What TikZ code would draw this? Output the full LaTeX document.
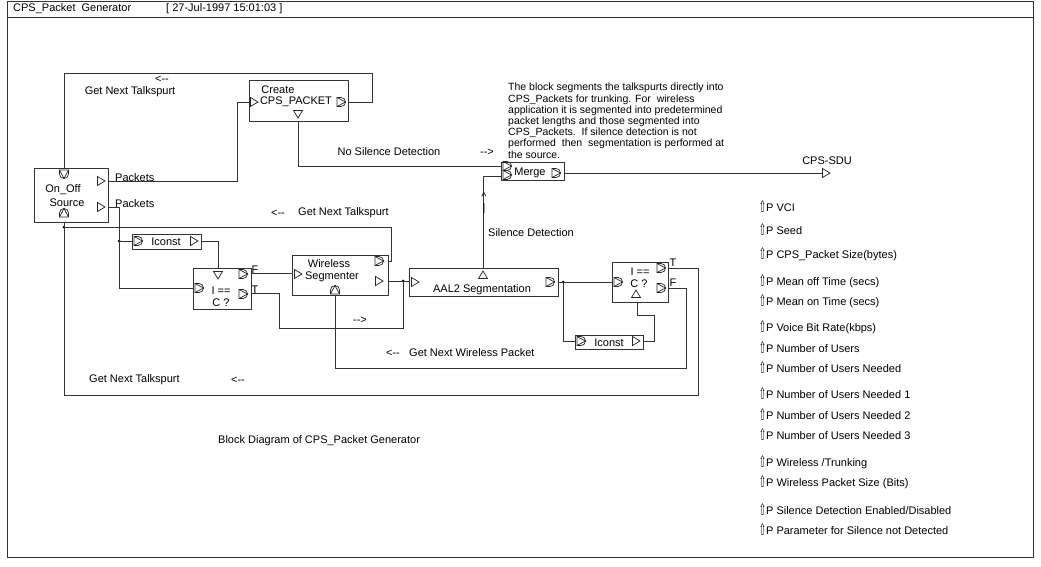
\documentclass[tikz,border=0pt]{standalone}
\usepackage{fontspec}
\setmainfont{Liberation Sans}
\newfontfamily\arrowfont{DejaVu Sans}
\tikzset{
  blk/.style={draw=black!80,line width=0.8pt,inner sep=0pt},
  wire/.style={draw=black!80,line width=0.8pt},
  port/.style={draw=black!85,line width=0.7pt},
  lbl/.style={inner sep=0pt,font=\fontsize{11}{11}\selectfont},
  joint/.style={circle,fill=black,inner sep=0pt,minimum size=3pt},
  tri/.pic={\draw[port] (-3.5,-4.5) -- (4,0) -- (-3.5,4.5) -- cycle;},
  dport/.pic={\draw[port] (-4,-4.5) -- (0,-4.5) arc[start angle=-90,end angle=90,radius=4.5] -- (-4,4.5) -- cycle;
    \draw[port] (-4,-4.5) -- (4.5,0) -- (-4,4.5);}
}
\newcommand{\parmark}{{\arrowfont\raisebox{-0.5pt}{\scalebox{0.75}[1.45]{⇧}}}P\ }
\newcommand{\lft}{<{-}{-}}
\newcommand{\rgt}{{-}{-}>}
\begin{document}
\begin{tikzpicture}[x=1pt,y=-1pt]
\useasboundingbox (0,0) rectangle (1041,567);
% frame and title
\draw[wire] (7,1) rectangle (1033,557);
\draw[wire] (7,17) -- (1033,17);
\node[lbl,anchor=west] (title) at (13,9) {CPS\_Packet\ \ Generator};
\node[lbl,anchor=west] (stamp) at (166,9) {[ 27-Jul-1997 15:01:03 ]};

% blocks
\node[blk,minimum width=74pt,minimum height=54pt] (src) at (71,195) {};
\node[lbl] (srcA) at (63,190) {On\_Off};
\node[lbl] (srcB) at (67,203) {Source};
\node[blk,minimum width=99pt,minimum height=41pt] (create) at (298.5,100.5) {};
\node[lbl] (crA) at (278,90) {Create};
\node[lbl] (crB) at (296,102) {CPS\_PACKET};
\node[blk,minimum width=63pt,minimum height=18pt] (merge) at (532.5,171) {};
\node[lbl] (mgA) at (530,173) {Merge};
\node[blk,minimum width=149pt,minimum height=28pt] (aal2) at (483.5,282) {};
\node[lbl] (aaA) at (482,290) {AAL2 Segmentation};
\node[blk,minimum width=96pt,minimum height=40pt] (wseg) at (340,275) {};
\node[lbl] (wsA) at (329,264) {Wireless};
\node[lbl] (wsB) at (332,277) {Segmenter};
\node[blk,minimum width=58pt,minimum height=41pt] (eqa) at (222,288.5) {};
\node[lbl] (eqaA) at (221,291) {I ==};
\node[lbl] (eqaB) at (221,303) {C ?};
\node[blk,minimum width=69pt,minimum height=15pt] (ica) at (166.5,241.5) {};
\node[lbl] (icaA) at (166,242) {Iconst};
\node[blk,minimum width=56pt,minimum height=40pt] (eqb) at (640,282) {};
\node[lbl] (eqbA) at (640,272) {I ==};
\node[lbl] (eqbB) at (639,284) {C ?};
\node[blk,minimum width=68pt,minimum height=14pt] (icb) at (609,342) {};
\node[lbl] (icbA) at (609,343) {Iconst};

% ports
\pic[rotate=-90] at (64,174) {dport};
\pic[rotate=90] at (64,213) {dport};
\pic at (101,181) {tri};
\pic at (101,207) {tri};
\pic at (254,102) {tri};
\pic at (341,102) {dport};
\pic[rotate=-90] at (298,114) {tri};
\pic at (507,166) {dport};
\pic at (507,175) {dport};
\pic at (556,173) {dport};
\pic[rotate=90] at (483,275) {tri};
\pic at (415,282) {tri};
\pic at (550,282) {dport};
\pic at (298,274) {tri};
\pic at (379,261) {dport};
\pic at (379,281) {tri};
\pic[rotate=90] at (335,290) {dport};
\pic[rotate=-90] at (218,275) {tri};
\pic at (199,288) {dport};
\pic at (243,274) {dport};
\pic at (243,294) {dport};
\pic at (138,241) {dport};
\pic at (194,241) {tri};
\pic at (618,282) {dport};
\pic at (661,268) {dport};
\pic at (661,288) {dport};
\pic[rotate=90] at (636,294) {tri};
\pic at (581,341) {dport};
\pic at (636,341) {tri};
\pic at (826,173) {tri};

% port coordinates
\coordinate (srcT) at (64,168);
\coordinate (srcBt) at (64,222);
\coordinate (srcP1) at (108,181);
\coordinate (srcP2) at (108,207);
\coordinate (crI) at (249,102);
\coordinate (crO) at (348,102);
\coordinate (crBt) at (298,121);
\coordinate (mgI1) at (501,166);
\coordinate (mgI2) at (501,176);
\coordinate (mgO) at (564,173);
\coordinate (sduI) at (822,173);
\coordinate (aaT) at (483,268);
\coordinate (aaI) at (409,281);
\coordinate (aaO) at (558,282);
\coordinate (wsI) at (292,273);
\coordinate (wsR) at (388,261);
\coordinate (wsO) at (388,281);
\coordinate (wsBt) at (335,295);
\coordinate (eqaT) at (218,268);
\coordinate (eqaI) at (193,288);
\coordinate (eqaF) at (251,273);
\coordinate (eqaTT) at (251,293);
\coordinate (icaI) at (132,241);
\coordinate (icaO) at (201,241);
\coordinate (eqbI) at (612,282);
\coordinate (eqbT) at (668,268);
\coordinate (eqbF) at (668,288);
\coordinate (eqbBt) at (637,302);
\coordinate (icbI) at (575,341);
\coordinate (icbO) at (643,341);
% bends
\coordinate (loopA) at (372,73);
\coordinate (bendA) at (237,102);
\coordinate (bendT) at (279,328);
\coordinate (bendW) at (391,227);
\coordinate (loopB) at (698,395);
\coordinate (loopC) at (686,368);
\coordinate (bendI) at (654,315);

% junctions
\node[joint] (jA) at (119,241) {};
\node[joint] (jB) at (403,281) {};
\node[joint] (jC) at (64,227) {};
\node[joint] (jD) at (563,282) {};

% wires
\draw[wire] (srcT) |- (loopA) |- (crO);
\draw[wire] (srcP1) -| (bendA) -- (crI);
\draw[wire] (crBt) |- (mgI1);
\draw[wire] (mgO) -- (sduI);
\draw[wire] (aaT) |- (mgI2);
\draw[wire] (srcP2) -| (jA.center) -- (icaI);
\draw[wire] (jA.center) |- (eqaI);
\draw[wire] (icaO) -| (eqaT);
\draw[wire] (eqaF) -- (wsI);
\draw[wire] (eqaTT) -| (bendT) -| (jB.center);
\draw[wire] (wsO) -- (aaI);
\draw[wire] (wsR) -| (bendW) -- (jC.center) -- (srcBt);
\draw[wire] (jC.center) |- (loopB) |- (eqbT);
\draw[wire] (wsBt) |- (loopC) |- (eqbF);
\draw[wire] (aaO) -- (eqbI);
\draw[wire] (jD.center) |- (icbI);
\draw[wire] (icbO) -| (bendI) -| (eqbBt);

% labels
\node[lbl] (back1) at (162,79) {\lft};
\node[lbl] (talk1) at (130,92) {Get Next Talkspurt};
\node[lbl,anchor=west] (pk1) at (115,178) {Packets};
\node[lbl,anchor=west] (pk2) at (115,204) {Packets};
\node[lbl] (nosil) at (389,152) {No Silence Detection};
\node[lbl] (fwd1) at (487,152) {\rgt};
\node[lbl] (up1) at (484,197) {\^{}};
\node[lbl] (up2) at (484,209) {|};
\node[lbl,anchor=west] (sil) at (488,233) {Silence Detection};
\node[lbl] (back2) at (278,213) {\lft};
\node[lbl,anchor=west] (talk2) at (298,213) {Get Next Talkspurt};
\node[lbl] (fwd2) at (360,320) {\rgt};
\node[lbl] (back3) at (393,353) {\lft};
\node[lbl,anchor=west] (wpk) at (409,353) {Get Next Wireless Packet};
\node[lbl,anchor=west] (talk3) at (89,380) {Get Next Talkspurt};
\node[lbl] (back4) at (238,380) {\lft};
\node[lbl] (Tlab1) at (255,290) {T};
\node[lbl] (Flab1) at (255,270) {F};
\node[lbl] (Tlab2) at (673,263) {T};
\node[lbl] (Flab2) at (673,283) {F};
\node[lbl] (sdu) at (827,161) {CPS-SDU};
\node[lbl,anchor=west] (caption) at (218,441) {Block Diagram of CPS\_Packet Generator};
\node[lbl,anchor=north west,align=left,font=\fontsize{10.5}{11.2}\selectfont] (desc) at (508,83)
  {The block segments the talkspurts directly into\\
   CPS\_Packets for trunking. For\ \ wireless\\
   application it is segmented into predetermined\\
   packet lengths and those segmented into\\
   CPS\_Packets.\ \ If silence detection is not\\
   performed\ \ then\ \ segmentation is performed at\\
   the source.};

% parameters
\foreach \yy/\txt in {206/VCI, 229/Seed, 254/{CPS\_Packet Size(bytes)}, 281/{Mean off Time (secs)},
  301/{Mean on Time (secs)}, 327/{Voice Bit Rate(kbps)}, 347/{Number of Users},
  367/{Number of Users Needed}, 393/{Number of Users Needed 1}, 414/{Number of Users Needed 2},
  434/{Number of Users Needed 3}, 462/{Wireless /Trunking}, 482/{Wireless Packet Size (Bits)},
  509/{Silence Detection Enabled/Disabled}, 529/{Parameter for Silence not Detected}}
  \node[lbl,anchor=west] at (759,\yy) {\parmark\txt};
\end{tikzpicture}
\end{document}
